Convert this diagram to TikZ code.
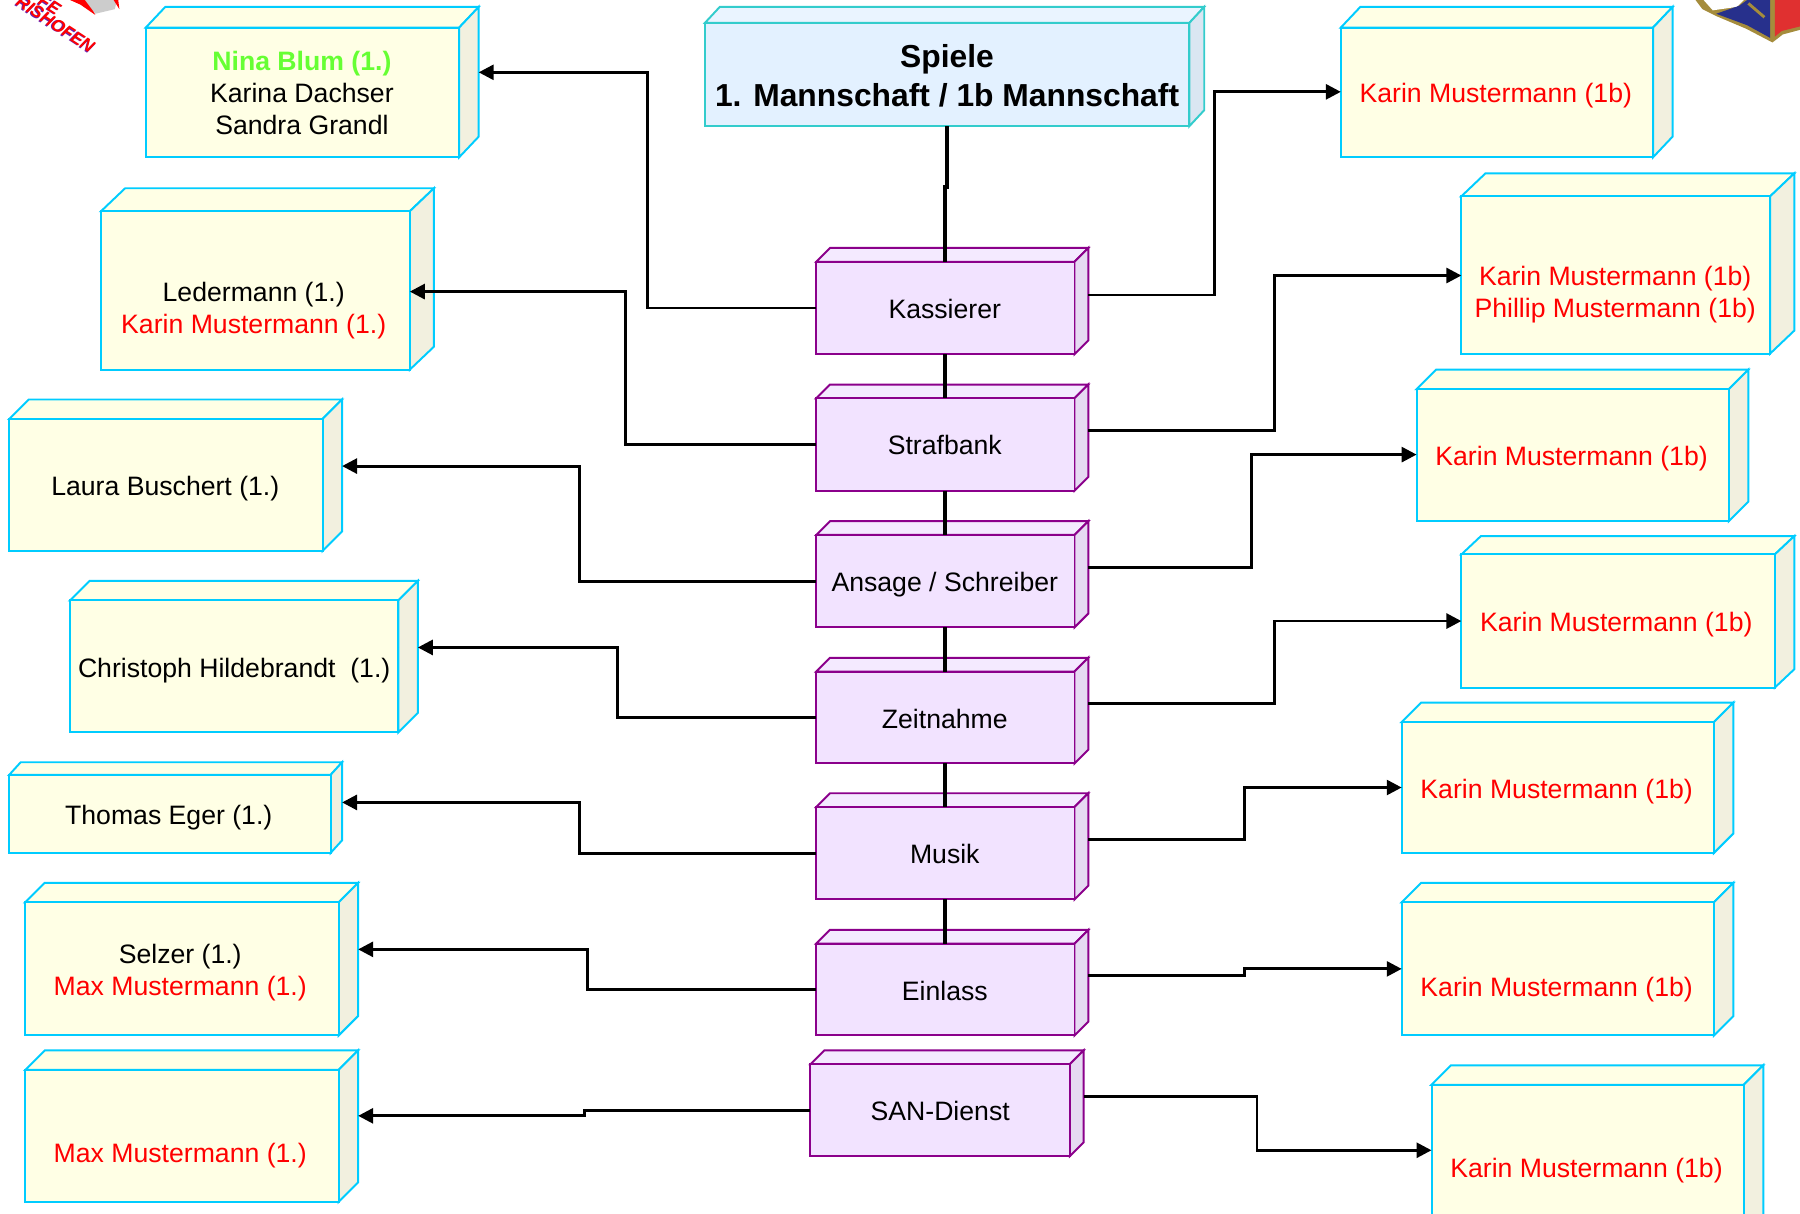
\documentclass[tikz,border=0pt]{standalone}
\usepackage{fontspec}
\setmainfont{Liberation Sans}
\usetikzlibrary{arrows.meta}
\definecolor{ybord}{HTML}{00CCFF}
\definecolor{yface}{HTML}{FFFFE5}
\definecolor{yside}{HTML}{F2F0DF}
\definecolor{ptop}{HTML}{F4EAFF}
\definecolor{pface}{HTML}{F2E3FF}
\definecolor{pside}{HTML}{E6DAF2}
\definecolor{pbord}{HTML}{8B008B}
\definecolor{btop}{HTML}{EAF4FF}
\definecolor{bface}{HTML}{E3F1FF}
\definecolor{bside}{HTML}{DAE6F2}
\definecolor{bbord}{HTML}{33CCCC}
\definecolor{grn}{HTML}{66FF33}
\definecolor{gold}{HTML}{A58C3C}
\definecolor{crestblue}{HTML}{27308C}
\definecolor{crestred}{HTML}{E03030}
\definecolor{logoviolet}{HTML}{6A1FB0}
\tikzset{
  lbl/.style={align=center,inner sep=0pt,font=\fontsize{23.2}{28}\selectfont},
  bigl/.style={align=center,inner sep=0pt,font=\fontsize{27.7}{34}\bfseries\selectfont},
  logotxt/.style={rotate=-33,inner sep=0pt,font=\fontsize{15}{15}\bfseries\itshape\selectfont},
  conn/.style={draw=black,line width=2.5pt,line join=miter},
  arr/.style={conn,-{Triangle[length=13pt,width=13pt]}},
  trunk/.style={draw=black,line width=3.4pt}
}
% name,x0,y0,x1,y1,dx,dy,top,side + face,border
\newcommand\cubebox[9]{%
  \def\cbname{#1}\def\cbxa{#2}\def\cbya{#3}\def\cbxb{#4}\def\cbyb{#5}\def\cbdx{#6}\def\cbdy{#7}%
  \def\cbtop{#8}\def\cbfam{#9}\cubeboxB}
\newcommand\cubeboxB[2]{%
  \filldraw[draw=#2,fill=\cbtop,line width=1.7pt,line join=miter]
    (\cbxa,\cbya) -- ++(\cbdx,-\cbdy) -- ({\cbxb+\cbdx},{\cbya-\cbdy}) -- (\cbxb,\cbya) -- cycle;
  \filldraw[draw=#2,fill=\cbfam,line width=1.7pt,line join=miter]
    (\cbxb,\cbya) -- ({\cbxb+\cbdx},{\cbya-\cbdy}) -- ({\cbxb+\cbdx},{\cbyb-\cbdy}) -- (\cbxb,\cbyb) -- cycle;
  \node[draw=#2,fill=#1,line width=1.7pt,inner sep=0pt,outer sep=0pt,
    minimum width={(\cbxb-\cbxa)*1pt},minimum height={(\cbyb-\cbya)*1pt}]
    (\cbname) at ({(\cbxa+\cbxb)/2},{(\cbya+\cbyb)/2}) {};
}
\newcommand\ybox[7]{\cubebox{#1}{#2}{#3}{#4}{#5}{#6}{#7}{yface}{yside}{yface}{ybord}}
\newcommand\pbox[5]{\cubebox{#1}{#2}{#3}{#4}{#5}{12}{12}{ptop}{pside}{pface}{pbord}}
\begin{document}
\begin{tikzpicture}[x=1pt,y=-1pt]
\useasboundingbox (0,0) rectangle (1568,1056.7);
\clip (0,0) rectangle (1568,1056.7);
% logo top left
\fill[red] (61,0) -- (70,4) -- (83,13) -- (77,0) -- cycle;
\fill[black!20] (74,0) -- (83,12) -- (100,8) -- (102,0) -- cycle;
\fill[red] (99,0) -- (104,8) -- (103,0) -- cycle;
\node[logotxt,text=logoviolet] (logoa) at (47.6,21.6) {RISHOFEN};
\node[logotxt,text=red] (logob) at (48.4,20.8) {RISHOFEN};
\node[logotxt,text=logoviolet] (logoc) at (42.6,4.6) {FE};
\node[logotxt,text=red] (logod) at (43.4,3.8) {FE};
% crest top right
\fill[gold] (1477,0) -- (1483,8) -- (1495,14) -- (1521,25) -- (1544,37) -- (1553,30) -- (1568,26) -- (1568,0) -- cycle;
\fill[white] (1484,0) -- (1492,9) -- (1513,6) -- (1519,0) -- cycle;
\fill[crestblue] (1495,12) -- (1515,5) -- (1522,0) -- (1542,0) -- (1542,33) -- (1522,22) -- cycle;
\fill[crestred] (1546,0) -- (1568,0) -- (1568,23) -- (1552,27) -- (1546,32) -- cycle;
\draw[line width=2.5pt,gold] (1523,3) -- (1537,15);
% top box
\cubebox{spiele}{614}{20}{1036}{110}{13}{14}{btop}{bside}{bface}{bbord}
\node[bigl] (spielet) at (825,66) {Spiele\\1. Mannschaft / 1b Mannschaft};
% left
\ybox{nina}{127}{24}{400}{137}{17}{18}
\node[lbl] (ninat) at (263,81) {\textcolor{grn}{\bfseries Nina Blum (1.)}\\Karina Dachser\\Sandra Grandl};
\ybox{leder}{88}{184}{357}{322}{21}{20}
\node[lbl] (ledert) at (221,270.5) {Ledermann (1.)\\\textcolor{red}{Karin Mustermann (1.)}};
\ybox{laura}{8}{365}{281}{480}{17}{17}
\node[lbl] (laurat) at (144,426) {Laura Buschert (1.)};
\ybox{chris}{61}{523}{347}{638}{17}{17}
\node[lbl] (christ) at (204,584.5) {Christoph Hildebrandt\ \ (1.)};
\ybox{thomas}{8}{675}{288}{743}{10}{11}
\node[lbl] (thomast) at (147,712.5) {Thomas Eger (1.)};
\ybox{selzer}{22}{786}{295}{902}{17}{17}
\node[lbl] (selzert) at (157,847.5) {Selzer (1.)\\\textcolor{red}{Max Mustermann (1.)}};
\ybox{maxm}{22}{932}{295}{1047}{17}{17}
\node[lbl,text=red] (maxmt) at (157,1006.5) {Max Mustermann (1.)};
% right
\ybox{ka}{1168}{24}{1440}{137}{17}{18}
\node[lbl,text=red] (kat) at (1303,83) {Karin Mustermann (1b)};
\ybox{kb}{1273}{171}{1542}{308}{21}{20}
\node[lbl,text=red] (kbt) at (1407,256.5) {Karin Mustermann (1b)\\Phillip Mustermann (1b)};
\ybox{kc}{1234}{339}{1506}{454}{17}{17}
\node[lbl,text=red] (kct) at (1369,399.5) {Karin Mustermann (1b)};
\ybox{kd}{1273}{483}{1546}{599}{17}{16}
\node[lbl,text=red] (kdt) at (1408,544) {Karin Mustermann (1b)};
\ybox{ke}{1221}{629}{1493}{743}{17}{17}
\node[lbl,text=red] (ket) at (1356,689.5) {Karin Mustermann (1b)};
\ybox{kf}{1221}{786}{1493}{902}{17}{17}
\node[lbl,text=red] (kft) at (1356,862) {Karin Mustermann (1b)};
\ybox{kg}{1247}{945}{1519}{1075}{17}{17}
\node[lbl,text=red] (kgt) at (1382,1020) {Karin Mustermann (1b)};
% centre
\pbox{kass}{711}{228}{936}{308.5}
\node[lbl] (kasst) at (823,269.5) {Kassierer};
\pbox{straf}{711}{347}{936}{427.5}
\node[lbl] (straft) at (823,388) {Strafbank};
\pbox{ansage}{711}{466}{936}{546.5}
\node[lbl] (ansaget) at (823,509) {Ansage / Schreiber};
\pbox{zeit}{711}{585}{936}{665}
\node[lbl] (zeitt) at (823,626) {Zeitnahme};
\pbox{musik}{711}{703}{936}{783.5}
\node[lbl] (musikt) at (823,744) {Musik};
\pbox{ein}{711}{822}{936}{902}
\node[lbl] (eint) at (823,863) {Einlass};
\pbox{san}{706}{927}{932}{1007}
\node[lbl] (sant) at (819,968) {SAN-Dienst};
% connector ends
\coordinate (inNina) at (417,63);
\coordinate (inLeder) at (357,254);
\coordinate (inLaura) at (298,406);
\coordinate (inChris) at (364,564);
\coordinate (inThomas) at (298,699);
\coordinate (inSelzer) at (312,827);
\coordinate (inMax) at (312,972);
\coordinate (outKass) at (948,257);
\coordinate (outStraf) at (948,375);
\coordinate (outAnsage) at (948,494);
\coordinate (outZeit) at (948,613);
\coordinate (outMusik) at (948,731);
\coordinate (outEin) at (948,850);
\coordinate (outSan) at (944,955);
% trunk
\draw[trunk] (spiele.south) -- ++(0,53) -| (kass.north);
\draw[trunk] (kass.south) -- (straf.north);
\draw[trunk] (straf.south) -- (ansage.north);
\draw[trunk] (ansage.south) -- (zeit.north);
\draw[trunk] (zeit.south) -- (musik.north);
\draw[trunk] (musik.south) -- (ein.north);
% left connectors
\draw[arr] (kass.west) -- ++(-147,0) |- (inNina);
\draw[arr] (straf.west) -- ++(-166,0) |- (inLeder);
\draw[arr] (ansage.west) -- ++(-206,0) |- (inLaura);
\draw[arr] (zeit.west) -- ++(-173,0) |- (inChris);
\draw[arr] (musik.west) -- ++(-206,0) |- (inThomas);
\draw[arr] (ein.west) -- ++(-199,0) |- (inSelzer);
\draw[arr] (san.west) -- ++(-197,0) |- (inMax);
% right connectors
\draw[arr] (outKass) -- ++(110,0) |- (ka.west |- 0,80);
\draw[arr] (outStraf) -- ++(162,0) |- (kb.west |- 0,240);
\draw[arr] (outAnsage) -- ++(142,0) |- (kc.west |- 0,396);
\draw[arr] (outZeit) -- ++(162,0) |- (kd.west |- 0,541);
\draw[arr] (outMusik) -- ++(136,0) |- (ke.west |- 0,686);
\draw[arr] (outEin) -- ++(136,0) |- (kf.west |- 0,844);
\draw[arr] (outSan) -- ++(151,0) |- (kg.west |- 0,1002);
\end{tikzpicture}
\end{document}
